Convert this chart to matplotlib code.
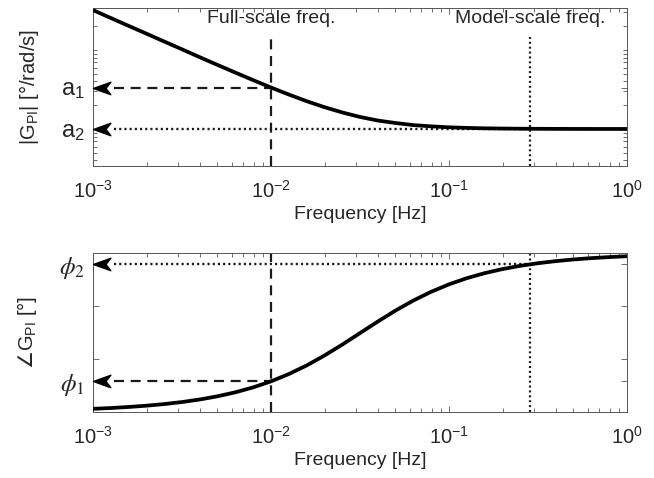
import numpy as np
import matplotlib
matplotlib.use("Agg")
import matplotlib.pyplot as plt
from matplotlib.path import Path
from matplotlib.ticker import LogLocator, NullFormatter, NullLocator

plt.rcParams['font.family'] = ['Liberation Sans', 'DejaVu Sans']
plt.rcParams['mathtext.fontset'] = 'dejavusans'

# ---- data ----
freq = [0.001, 0.001259, 0.001585, 0.001995, 0.002512, 0.003162, 0.003981, 0.005012,
        0.00631, 0.007943, 0.01, 0.01259, 0.01585, 0.01995, 0.02512, 0.03162, 0.03981,
        0.05012, 0.0631, 0.07943, 0.1, 0.1259, 0.1585, 0.1995, 0.2512, 0.3162, 0.3981,
        0.5012, 0.631, 0.7943, 1.0]
magnitude = [32.0, 25.4, 20.2, 16.1, 12.8, 10.2, 8.10, 6.46, 5.17, 4.15, 3.35, 2.73,
             2.25, 1.89, 1.62, 1.42, 1.28, 1.19, 1.12, 1.08, 1.05, 1.032, 1.020, 1.013,
             1.008, 1.005, 1.003, 1.002, 1.001, 1.001, 1.0005]
phase = [-88.2, -87.75, -87.16, -86.43, -85.51, -84.36, -82.91, -81.10, -78.84, -76.06,
         -72.65, -68.52, -63.66, -58.06, -51.87, -45.34, -38.79, -32.55, -26.89, -21.94,
         -17.74, -14.26, -11.41, -9.11, -7.26, -5.78, -4.60, -3.65, -2.90, -2.31, -1.83]

f_full = 0.01
f_model = 0.285
a1, a2 = 3.35, 1.006
phi1, phi2 = -72.6, -6.3
mag_ylim = [0.34, 34.0]
phase_ylim = [-90.0, 0.0]
phase_extra_ticks = [-60.0, -30.0]
vline_top = 14.5
text_y = 25.0
labels_text = ['Full-scale freq.', 'Model-scale freq.']

TXT = '#262626'
AX = '#555555'
FS = 14

fig = plt.figure(figsize=(6.54, 4.78), dpi=100)
ax1 = fig.add_axes([93/654, 1-166/478, 534/654, 158/478])
ax2 = fig.add_axes([93/654, 1-412/478, 534/654, 159/478])

# arrowhead marker (tip at origin, pointing left, concave back)
head = Path([(0, 0), (1, 0.36), (0.72, 0), (1, -0.36), (0, 0)],
            [Path.MOVETO, Path.LINETO, Path.LINETO, Path.LINETO, Path.CLOSEPOLY])

dash = (0, (4.5, 3.0))
dot = (0, (0.9, 1.3))

def style(ax):
    ax.set_xscale('log')
    ax.set_xlim(1e-3, 1)
    for s in ax.spines.values():
        s.set_color(AX)
        s.set_linewidth(0.7)
    ax.tick_params(which='both', direction='in', top=True, right=True,
                   colors=AX, labelcolor=TXT, labelsize=14.5, width=0.6)
    ax.tick_params(which='major', length=4.5)
    ax.tick_params(which='minor', length=3)
    ax.tick_params(axis='x', pad=10)
    ax.xaxis.set_minor_locator(LogLocator(base=10, subs=np.arange(2, 10), numticks=20))
    ax.xaxis.set_minor_formatter(NullFormatter())
    ax.set_xlabel('Frequency [Hz]', fontsize=FS, color=TXT, labelpad=3)

# ---- top: magnitude ----
style(ax1)
ax1.set_yscale('log')
ax1.set_ylim(*mag_ylim)
ax1.plot(freq, magnitude, color='black', lw=2.7, solid_capstyle='butt', zorder=5)
ax1.plot([f_full, f_full], [mag_ylim[0], vline_top], color='#1a1a1a', lw=1.6, linestyle=dash)
ax1.plot([f_model, f_model], [mag_ylim[0], vline_top], color='#1a1a1a', lw=1.6, linestyle=dot)
ax1.plot([1.32e-3, f_full], [a1, a1], color='#1a1a1a', lw=1.6, linestyle=dash)
ax1.plot([1.32e-3, f_model], [a2, a2], color='#1a1a1a', lw=1.7, linestyle=dot)
ax1.plot([1e-3, 1e-3], [a1, a2], linestyle='none', marker=head, markersize=25,
         color='black', clip_on=False, zorder=6)
ax1.text(f_full, text_y, labels_text[0], ha='center', va='center', fontsize=FS, color=TXT)
ax1.text(f_model, text_y, labels_text[1], ha='center', va='center', fontsize=FS, color=TXT)
ax1.set_yticks([a2, a1])
ax1.set_yticklabels([r'$\mathdefault{a_2}$', r'$\mathdefault{a_1}$'], fontsize=17)
ax1.yaxis.set_minor_locator(LogLocator(base=10, subs=np.arange(1, 10), numticks=20))
ax1.yaxis.set_minor_formatter(NullFormatter())
ax1.tick_params(axis='y', pad=6)
ax1.set_ylabel(r'|G$_{\mathdefault{PI}}$| [°/rad/s]', fontsize=14.5, color=TXT, labelpad=14)

# ---- bottom: phase ----
style(ax2)
ax2.set_ylim(*phase_ylim)
ax2.plot(freq, phase, color='black', lw=2.7, solid_capstyle='butt', zorder=5)
ax2.plot([f_full, f_full], phase_ylim, color='#1a1a1a', lw=1.6, linestyle=dash)
ax2.plot([f_model, f_model], phase_ylim, color='#1a1a1a', lw=1.6, linestyle=dot)
ax2.plot([1.32e-3, f_full], [phi1, phi1], color='#1a1a1a', lw=1.6, linestyle=dash)
ax2.plot([1.32e-3, f_model], [phi2, phi2], color='#1a1a1a', lw=1.7, linestyle=dot)
ax2.plot([1e-3, 1e-3], [phi1, phi2], linestyle='none', marker=head, markersize=25,
         color='black', clip_on=False, zorder=6)
ax2.set_yticks([phi1] + phase_extra_ticks + [phi2])
ylabs = ax2.set_yticklabels([r'$\phi_1$', '', '', r'$\phi_2$'], fontsize=18)
for t in ylabs:
    t.set_math_fontfamily('stix')
ax2.yaxis.set_minor_locator(NullLocator())
ax2.tick_params(axis='y', pad=6)
ax2.set_ylabel(r'$\angle$G$_{\mathdefault{PI}}$ [°]', fontsize=14.5, color=TXT, labelpad=14)

fig.savefig('out.png', dpi=100)
